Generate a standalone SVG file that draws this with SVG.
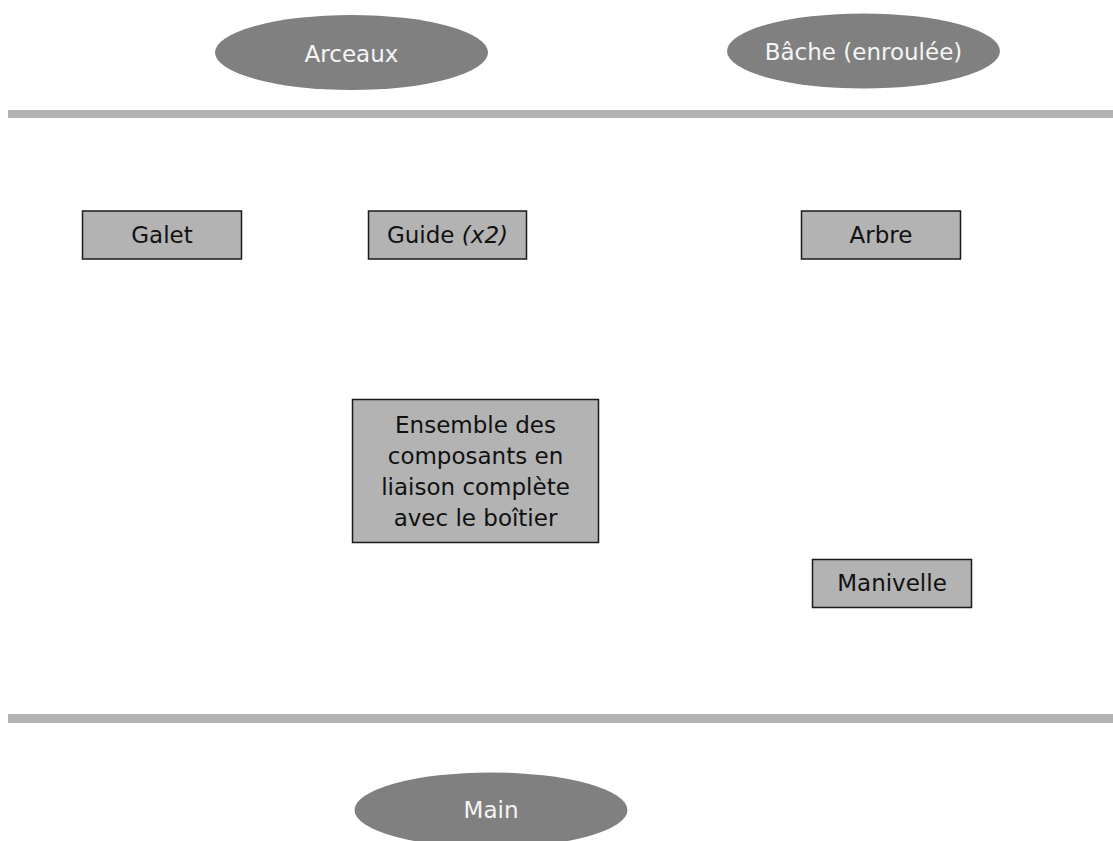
<svg xmlns="http://www.w3.org/2000/svg" width="1113" height="841" viewBox="0 0 1113 841">
<style>
.ell{fill:#808080;stroke:none}
.et{fill:#f5f5f5;font-family:"DejaVu Sans",sans-serif;font-size:23px;text-anchor:middle}
.box{fill:#b3b3b3;stroke:#1a1a1a;stroke-width:1.5}
.bt{fill:#111;font-family:"DejaVu Sans",sans-serif;font-size:23px;text-anchor:middle}
.bar{fill:#b3b3b3}
</style>
<rect width="1113" height="841" fill="#fff"/>
<rect class="bar" x="8" y="110" width="1105" height="8"/>
<rect class="bar" x="8" y="714" width="1105" height="9"/>
<g id="arceaux"><ellipse class="ell" cx="351.5" cy="52.5" rx="136.5" ry="37.5"/><text class="et" x="351.5" y="62">Arceaux</text></g>
<g id="bache"><ellipse class="ell" cx="863.5" cy="51" rx="136.5" ry="37.5"/><text class="et" x="863.5" y="60">Bâche (enroulée)</text></g>
<g id="galet"><rect class="box" x="82.5" y="211" width="159" height="48"/><text class="bt" x="162" y="243">Galet</text></g>
<g id="guide"><rect class="box" x="368.5" y="211" width="158" height="48"/><text class="bt" x="447.5" y="243">Guide <tspan font-style="italic">(x2)</tspan></text></g>
<g id="arbre"><rect class="box" x="801.5" y="211" width="159" height="48"/><text class="bt" x="881" y="243">Arbre</text></g>
<g id="ensemble"><rect class="box" x="352.5" y="399.5" width="246" height="143"/><text class="bt" x="475.5" y="433">Ensemble des<tspan x="475.5" dy="31">composants en</tspan><tspan x="475.5" dy="31">liaison complète</tspan><tspan x="475.5" dy="31">avec le boîtier</tspan></text></g>
<g id="manivelle"><rect class="box" x="812.5" y="559.5" width="159" height="48"/><text class="bt" x="892" y="591">Manivelle</text></g>
<g id="main"><ellipse class="ell" cx="491" cy="810" rx="136.5" ry="37.5"/><text class="et" x="491" y="818">Main</text></g>
<g id="connectors"/>
</svg>
